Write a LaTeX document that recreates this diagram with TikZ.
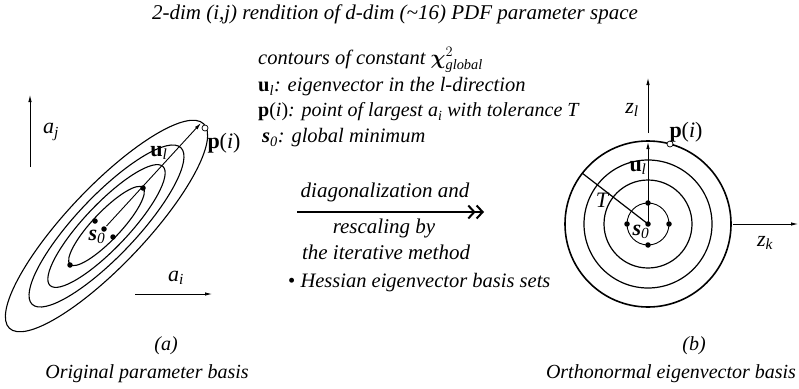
\documentclass[tikz,border=0pt]{standalone}
\usepackage{fontspec}
\setmainfont{Liberation Serif}
\usepackage{amsmath}
\usetikzlibrary{arrows.meta, positioning, calc}

\begin{document}
\begin{tikzpicture}[
    x=1pt, y=-1pt,
    >={Latex[length=7pt,width=3.5pt]},
    font=\fontsize{21}{24}\selectfont\itshape,
    contour/.style={
        draw=black,
        line width=1.1pt
    },
    ring/.style={
        draw=black,
        line width=1.2pt
    },
    axis/.style={
        ->,
        line width=0.8pt
    },
    vecline/.style={
        ->,
        line width=0.9pt
    },
    dot/.style={
        circle,
        fill=black,
        inner sep=0pt,
        minimum size=5.5pt
    },
    opendot/.style={
        circle,
        draw=black,
        fill=white,
        line width=0.7pt,
        inner sep=0pt,
        minimum size=6pt
    },
    lbl/.style={
        inner sep=0pt,
        font=\fontsize{22}{24}\selectfont\itshape
    },
    legend/.style={
        anchor=west,
        inner sep=0pt,
        font=\fontsize{20.5}{23}\selectfont\itshape
    },
    caption/.style={
        font=\fontsize{20}{23}\selectfont\itshape
    }
]
\useasboundingbox (0,0) rectangle (799,388);

\node (title) at (395,14) {2-dim (i,j) rendition of d-dim (\textasciitilde16) PDF parameter space};

% (a) original basis
\coordinate (ca) at (106.5,226);
\foreach \ra/\rb in {53/14, 82/22, 108/30, 141/39}
    \draw[contour, rotate around={46.5:(ca)}] (ca) ellipse [x radius=\ra, y radius=\rb];

\coordinate (ajbot) at (30,167);
\coordinate (ajtop) at (30,95);
\coordinate (aileft) at (135,294);
\coordinate (airight) at (212,294);
\draw[axis] (ajbot) -- (ajtop);
\draw[axis] (aileft) -- (airight);
\node[lbl] (aj) at (51,132) {a\textsubscript{j}};
\node[lbl] (ai) at (176,278) {a\textsubscript{i}};

\coordinate (uatip) at (201,123);
\draw[vecline] (ca) -- (uatip);
\node[opendot] (pa) at (205,128) {};
\node[dot] (s0a) at (104,229) {};
\node[dot] (loa) at (70,265) {};
\node[dot] (hia) at (143,188) {};
\node[dot] (mna) at (95,221) {};
\node[dot] (mnb) at (113,237) {};
\node[lbl] (sa) at (97,237) {{\bfseries s}\textsubscript{0}};
\node[lbl] (ua) at (159,153) {{\bfseries\upshape u}\textsubscript{l}};
\node[lbl] (pal) at (224,143) {{\bfseries\upshape p}{\upshape(}i{\upshape)}};

% (b) eigenvector basis
\coordinate (cb) at (648,224);
\draw[ring, line width=0.9pt] (cb) circle[radius=21];
\draw[ring] (cb) circle[radius=44];
\draw[ring] (cb) circle[radius=64];
\draw[ring, line width=1.6pt] (cb) circle[radius=83];

\coordinate (zlbot) at (648,133);
\coordinate (zltop) at (648,78);
\coordinate (zkleft) at (733,224);
\coordinate (zkright) at (798,224);
\draw[axis] (zlbot) -- (zltop);
\draw[axis] (zkleft) -- (zkright);
\node[lbl] (zl) at (632,110) {z\textsubscript{l}};
\node[lbl] (zk) at (765,243) {z\textsubscript{k}};

\coordinate (ubtip) at (648,142);
\coordinate (tb) at (582,173);
\draw[vecline] (cb) -- (ubtip);
\draw[line width=1.2pt] (cb) -- (tb);
\node[opendot] (pb) at (670,144) {};
\node[dot] (s0b) at (cb) {};
\node[dot] (nb) at (648,203) {};
\node[dot] (wb) at (627,224) {};
\node[dot] (eb) at (669,224) {};
\node[dot] (sb) at (648,245) {};
\node[lbl] (sbl) at (641,232) {{\bfseries s}\textsubscript{0}};
\node[lbl] (ubl) at (638,168) {{\bfseries\upshape u}\textsubscript{l}};
\node[lbl] (tl) at (602,200) {T};
\node[lbl] (pbl) at (686,132) {{\bfseries\upshape p}{\upshape(}i{\upshape)}};

% legend
\node[legend] (l1) at (258,60)
    {contours of constant $\boldsymbol{\chi}^{2}_{\textit{global}}$};
\node[legend] (l2) at (258,87)
    {{\bfseries\upshape u}\textsubscript{l}: eigenvector in the l-direction};
\node[legend, font=\fontsize{20}{23}\selectfont\itshape] (l3) at (258,112)
    {{\bfseries\upshape p}{\upshape(}i{\upshape)}: point of largest a\textsubscript{i} with tolerance T};
\node[legend] (l4) at (262,138)
    {{\bfseries s}\textsubscript{0}: global minimum};

% transformation arrow
\coordinate (trl) at (297,212);
\coordinate (trr) at (484,212);
\draw[line width=2pt, -{Straight Barb[length=6pt,width=13pt]Straight Barb[length=6pt,width=13pt]}] (trl) -- (trr);
\node (t1) at (385,192) {diagonalization and};
\node (t2) at (384,228) {rescaling by};
\node (t3) at (386,252) {the iterative method};

\node[legend] (hes) at (288,283)
    {{\upshape\textbullet}\ Hessian eigenvector basis sets};

% captions
\node[caption] (capa) at (166,346) {(a)};
\node[caption] (capan) at (147,374) {Original parameter basis};
\node[caption] (capb) at (694,346) {(b)};
\node[caption] (capbn) at (671,374) {Orthonormal eigenvector basis};

\end{tikzpicture}
\end{document}
